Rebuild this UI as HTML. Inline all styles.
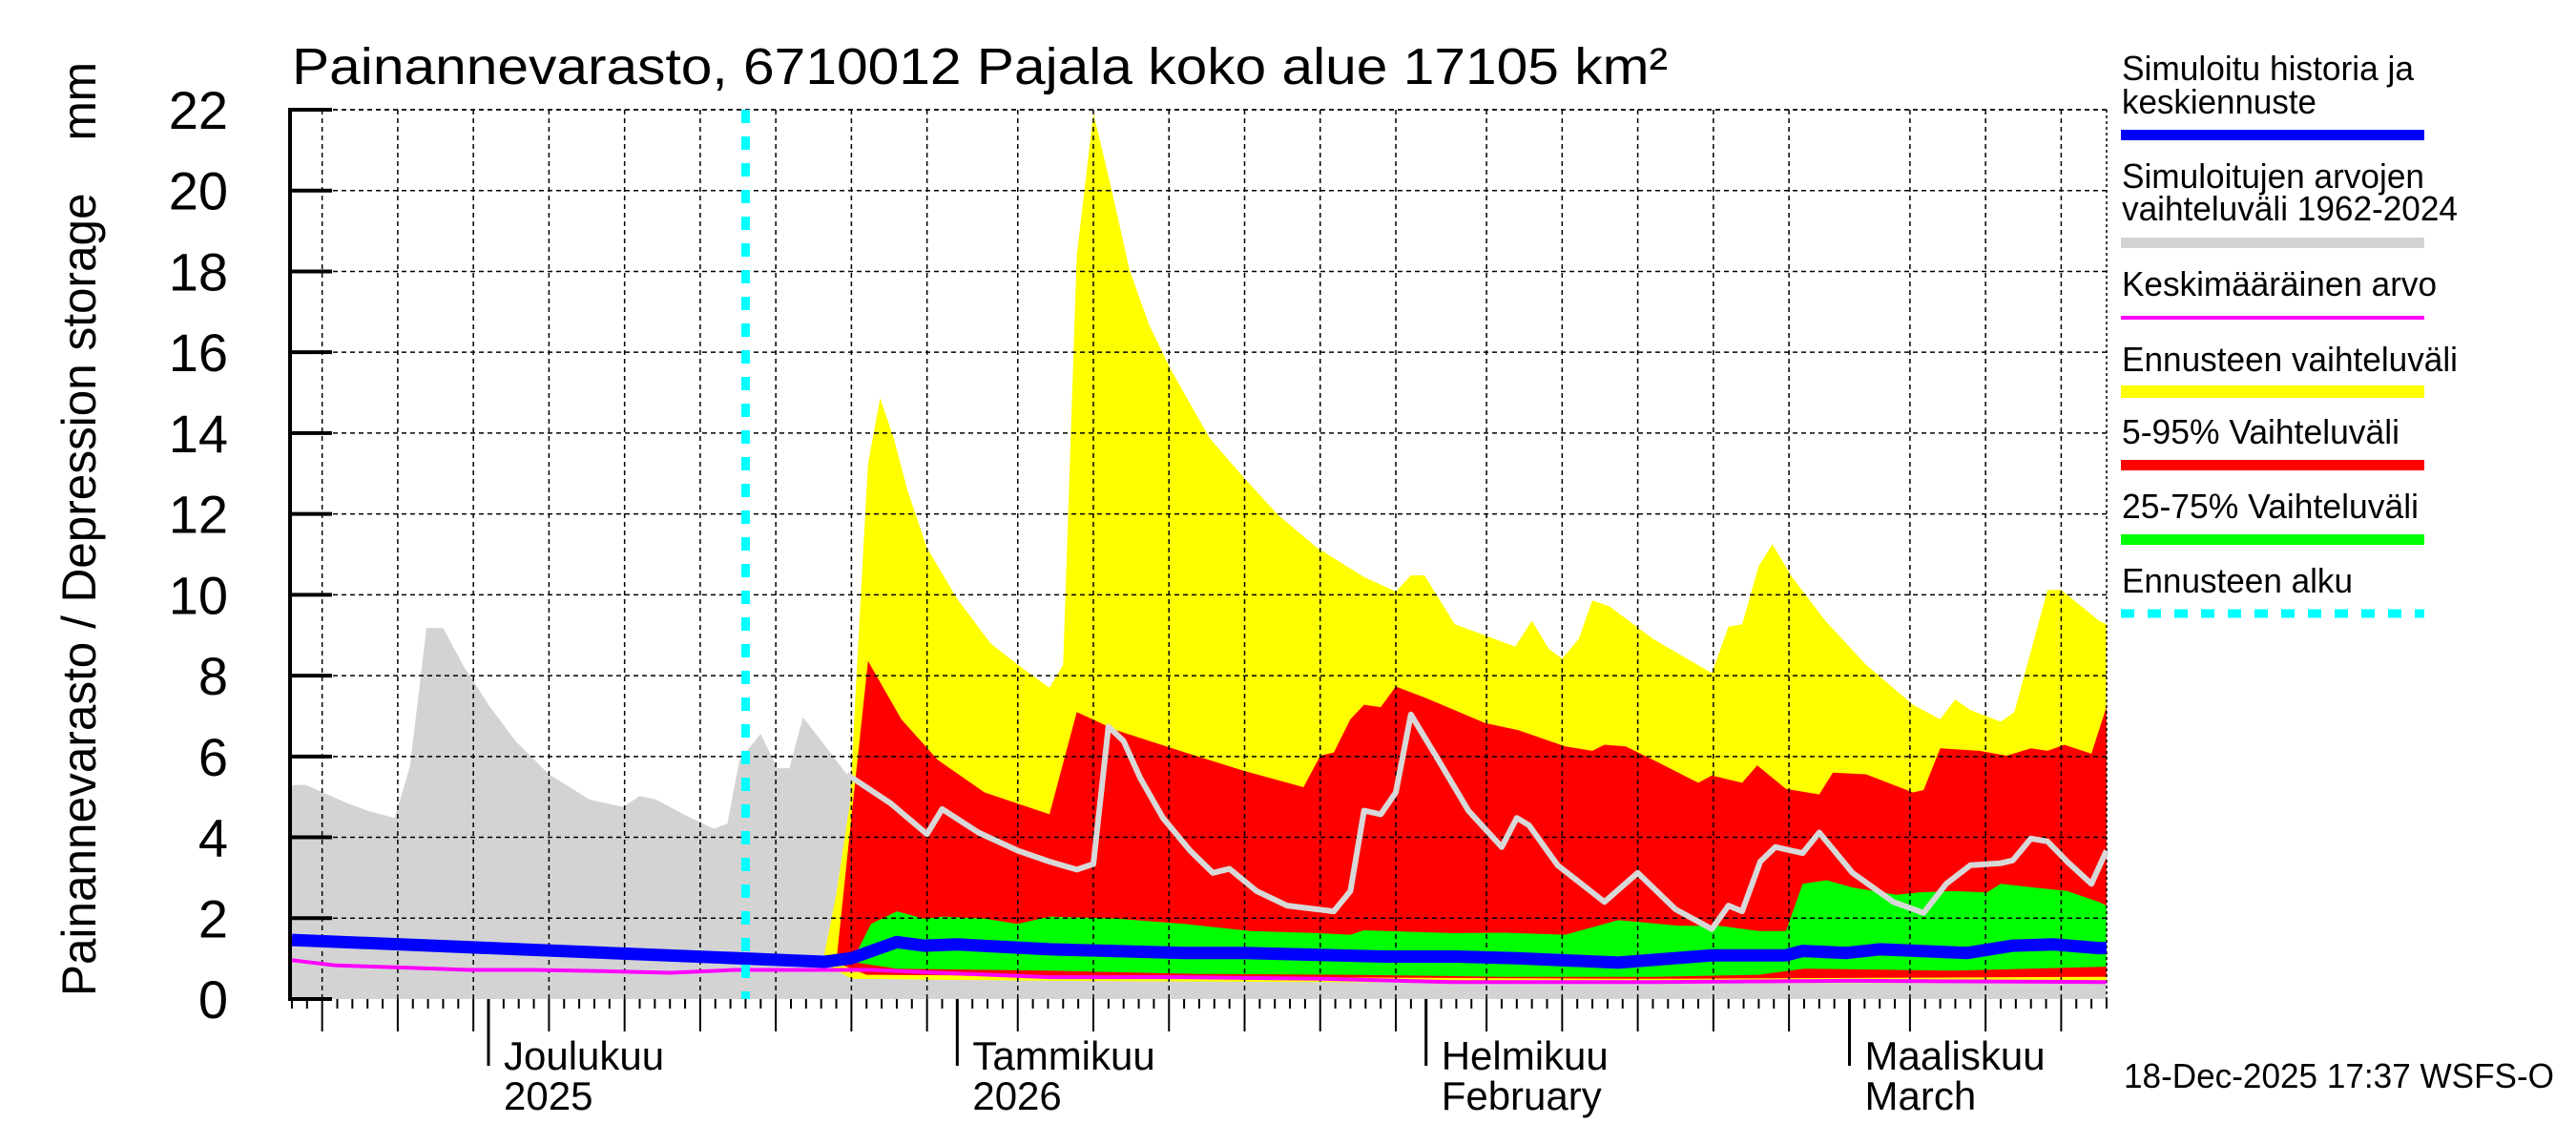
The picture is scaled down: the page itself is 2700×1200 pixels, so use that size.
<!DOCTYPE html>
<html><head><meta charset="utf-8"><style>
html,body{margin:0;padding:0;background:#fff}
svg{display:block;font-family:"Liberation Sans",sans-serif}
</style></head><body>
<svg id="chart" width="2700" height="1200" viewBox="0 0 2700 1200" xmlns="http://www.w3.org/2000/svg">
<rect width="2700" height="1200" fill="#fff"/>
<g id="fills"></g><g id="grid"></g><g id="lines"></g><g id="axes"></g>
<text x="306" y="88" font-size="54" textLength="1442" lengthAdjust="spacingAndGlyphs">Painannevarasto, 6710012 Pajala koko alue 17105 km²</text>
<text transform="translate(100,1044) rotate(-90)" font-size="50" textLength="979" lengthAdjust="spacingAndGlyphs" xml:space="preserve" style="white-space:pre">Painannevarasto / Depression storage    mm</text>
<g font-size="36" lengthAdjust="spacingAndGlyphs">
<text x="2224" y="84" textLength="306" lengthAdjust="spacingAndGlyphs">Simuloitu historia ja</text>
<text x="2224" y="119" textLength="204" lengthAdjust="spacingAndGlyphs">keskiennuste</text>
<rect x="2223" y="136" width="318" height="11" fill="#0000ff"/>
<text x="2224" y="197" textLength="317" lengthAdjust="spacingAndGlyphs">Simuloitujen arvojen</text>
<text x="2224" y="231" textLength="352" lengthAdjust="spacingAndGlyphs">vaihteluväli 1962-2024</text>
<rect x="2223" y="249" width="318" height="11" fill="#d3d3d3"/>
<text x="2224" y="310" textLength="330" lengthAdjust="spacingAndGlyphs">Keskimääräinen arvo</text>
<rect x="2223" y="331" width="318" height="4" fill="#ff00ff"/>
<text x="2224" y="389" textLength="352" lengthAdjust="spacingAndGlyphs">Ennusteen vaihteluväli</text>
<rect x="2223" y="404" width="318" height="13" fill="#ffff00"/>
<text x="2224" y="465" textLength="291" lengthAdjust="spacingAndGlyphs">5-95% Vaihteluväli</text>
<rect x="2223" y="482" width="318" height="11" fill="#ff0000"/>
<text x="2224" y="543" textLength="311" lengthAdjust="spacingAndGlyphs">25-75% Vaihteluväli</text>
<rect x="2223" y="560" width="318" height="11" fill="#00ff00"/>
<text x="2224" y="621" textLength="242" lengthAdjust="spacingAndGlyphs">Ennusteen alku</text>
<line x1="2223" y1="643" x2="2541" y2="643" stroke="#00ffff" stroke-width="9" stroke-dasharray="14,14"/>
</g>
<text x="2226" y="1140" font-size="36" textLength="451" lengthAdjust="spacingAndGlyphs">18-Dec-2025 17:37 WSFS-O</text>
</svg>
<script>
// ---- data (day index: 0 = 18 Nov 2025) ----
const histDays = [0,0.9,3.7,5,6.8,7.8,8.9,10,11.3,13,14.8,17,19.7,21.9,23,24.1,25.9,27.9,28.8,29.6,31,32.1,32.9,33.8,35.2,36.7];
const histMax = [5.29,5.3,4.84,4.66,4.48,5.74,9.18,9.18,8.27,7.28,6.38,5.56,4.93,4.75,5.02,4.93,4.57,4.21,4.34,5.92,6.56,5.71,5.71,6.97,6.29,5.56];
const maxLineDays = [36.7,39.6,42,43,45.4,48,50.1,51.9,53,54,55,56.1,57.6,59.4,60.9,62,63.8,65.8,68.9,70,70.9,72,73,74,75.8,77.8,80,81,81.8,83.7,86.8,89,91.5,93.9,95,95.9,97.1,98.1,99.9,101,103.2,105.9,107.9,109.4,111,113,113.8,115,116.1,117.4,119,120];
const maxLineVals = [5.56,4.84,4.08,4.7,4.12,3.67,3.4,3.2,3.34,6.74,6.38,5.47,4.48,3.67,3.12,3.22,2.67,2.31,2.17,2.67,4.66,4.57,5.11,7.04,5.92,4.66,3.76,4.48,4.3,3.31,2.4,3.12,2.22,1.73,2.31,2.17,3.4,3.76,3.61,4.12,3.12,2.4,2.13,2.85,3.31,3.36,3.43,3.97,3.9,3.4,2.85,3.67];
const yelDays = [35.1,36,36.9,37.4,38.1,38.9,39.8,40.7,42,44,46.2,48,50.1,51,51.9,53,54.1,55.4,56.7,58.1,60.7,63,65.2,67.8,70.9,73,74,74.9,76.9,80.9,82,83.1,84,85.1,86,87.1,90,93.9,95,95.9,97,97.9,99.2,101.4,104.1,107.2,109,110,111,113,113.9,116.1,117,119.5,120];
const yelMax = [0.9,2.58,4.84,8.45,13.24,14.87,13.87,12.6,11.16,9.9,8.8,8.27,7.7,8.27,18.39,21.91,20.2,18.03,16.67,15.59,13.87,12.88,11.98,11.16,10.44,10.08,10.48,10.48,9.27,8.72,9.36,8.67,8.42,8.91,9.86,9.72,8.91,8.06,9.21,9.27,10.71,11.25,10.44,9.36,8.27,7.28,6.92,7.41,7.15,6.86,7.1,10.12,10.12,9.36,9.27];
const yelMinDays = [35.1,37,50,80,120];
const yelMin = [0.9,0.5,0.45,0.4,0.4];
const redDays = [36,37,38.1,40.3,42.7,45.8,50.1,51.9,54.5,59,62.9,66.9,68,68.9,70,70.9,72,73,74.9,78.9,81.1,84.2,86,86.8,88.2,90,93,93.9,95.9,96.9,98.8,101,101.9,104.1,107.2,107.9,109,111.6,113.4,115,116.1,117.2,119,120];
const redMax = [0.9,4.5,8.36,6.92,5.92,5.11,4.57,7.1,6.65,6.11,5.65,5.24,6.02,6.1,6.92,7.28,7.22,7.73,7.46,6.83,6.65,6.25,6.14,6.29,6.25,5.92,5.35,5.53,5.35,5.78,5.2,5.06,5.6,5.56,5.11,5.17,6.2,6.14,6.02,6.2,6.14,6.29,6.07,7.23];
const redMinDays = [36,38,60,90,120];
const redMin = [0.9,0.6,0.55,0.5,0.55];
const grnDays = [36.5,37.2,38.3,40,41.8,43.1,45.8,48,50.1,54.5,59,63.4,67.8,70,70.9,76.7,80.2,84.2,87.7,89,91.7,94.4,97,98.8,99.9,101.5,103.2,106.1,107.6,109.9,112.1,113,115.2,117.4,119.5,120];
const grnMax = [0.95,1.05,1.86,2.17,1.99,2.04,1.99,1.86,2.04,1.99,1.86,1.68,1.63,1.59,1.7,1.63,1.64,1.59,1.95,1.91,1.81,1.81,1.68,1.68,2.85,2.94,2.76,2.58,2.64,2.67,2.64,2.85,2.76,2.67,2.4,2.31];
const grnMinDays = [36.5,40,50,60,70,80,90,97,100,110,120];
const grnMin = [0.95,0.75,0.7,0.62,0.6,0.55,0.55,0.6,0.75,0.7,0.8];
const blueDays = [0,35.2,37,40,41.8,44,50.1,59,63,67,72.2,77,81,87.7,93.9,98.8,99.9,102.8,105,110.8,113.8,116.5,119.5,120];
const blueVals = [1.46,0.92,1.01,1.41,1.32,1.35,1.23,1.14,1.14,1.1,1.05,1.05,1.01,0.9,1.08,1.08,1.19,1.14,1.23,1.14,1.32,1.35,1.26,1.26];
const meanDays = [0,2.9,7.3,11.7,16,20.5,25,29.4,34,38.3,42.7,50.1,59,68,76.7,90,103,120];
const meanVals = [0.96,0.83,0.78,0.72,0.72,0.69,0.65,0.72,0.72,0.72,0.65,0.54,0.54,0.5,0.42,0.42,0.45,0.42];
const forecastStartDay = [30];
const yTicks = [0,2,4,6,8,10,12,14,16,18,20,22];
const monthLabels = [["Joulukuu","2025"],["Tammikuu","2026"],["Helmikuu","February"],["Maaliskuu","March"]];

// ---- scales ----
const X0=304, X1=2208, Y0=1047, Y1=115;
const x = d => 512 + (d-13)*15.85;
const y = v => Y0 - v*(Y0-Y1)/22;
const NS="http://www.w3.org/2000/svg";
function mk(tag, parent, attrs){const e=document.createElementNS(NS,tag);for(const k in attrs)e.setAttribute(k,attrs[k]);document.getElementById(parent).appendChild(e);return e;}
function pts(ds,vs){return ds.map((d,i)=>x(d).toFixed(1)+","+y(vs[i]).toFixed(1));}
function band(ud,uv,ld,lv){return pts(ud,uv).concat(pts(ld,lv).reverse()).join(" ");}

let e;
e=mk("polygon","fills",{points:band(histDays.concat(maxLineDays.slice(1)),histMax.concat(maxLineVals.slice(1)),[0,120],[0,0]),fill:"#d3d3d3"});


e=mk("polygon","fills",{points:band(yelDays,yelMax,yelMinDays,yelMin),fill:"#ffff00"});


e=mk("polygon","fills",{points:band(redDays,redMax,redMinDays,redMin),fill:"#ff0000"});


e=mk("polygon","fills",{points:band(grnDays,grnMax,grnMinDays,grnMin),fill:"#00ff00"});



yTicks.forEach(v=>{
  if(v>0){e=mk("line","grid",{x1:X0,x2:X1,y1:y(v),y2:y(v),stroke:"#000","stroke-width":1.5,"stroke-dasharray":"5,4"});
  
  }
  e=mk("line","axes",{x1:X0,x2:X0+44,y1:y(v),y2:y(v),stroke:"#000","stroke-width":4});
  
  
  e=mk("text","axes",{x:239,y:y(v)+20,"font-size":56,"text-anchor":"end"});
  e.textContent=v;
  
  
});
const start=new Date(2025,10,18);
let mi=0;
for(let d=0; d<=120; d++){
  const dt=new Date(start.getTime()+d*86400000);
  const dom=dt.getDate();
  const xx=x(d);
  let len=10;
  if(dom%5===0){len=34;
    e=mk("line","grid",{x1:xx,x2:xx,y1:Y1,y2:Y0,stroke:"#000","stroke-width":1.5,"stroke-dasharray":"5,4"});
    
    }
  if(dom===1){len=70;
    const lb=monthLabels[mi++];
    e=mk("text","axes",{x:xx+16,y:1121,"font-size":42});e.textContent=lb[0];
    
    
    e=mk("text","axes",{x:xx+16,y:1163,"font-size":42});e.textContent=lb[1];
    
    }
  e=mk("line","axes",{x1:xx,x2:xx,y1:Y0,y2:Y0+len,stroke:"#000","stroke-width":dom===1?3:2});
  
  
}
e=mk("line","grid",{x1:X0,x2:X1,y1:Y1,y2:Y1,stroke:"#000","stroke-width":1.5,"stroke-dasharray":"5,4"});


e=mk("line","grid",{x1:X1,x2:X1,y1:Y1,y2:Y0,stroke:"#000","stroke-width":1.5,"stroke-dasharray":"3,3"});


e=mk("line","axes",{x1:X0,x2:X0,y1:Y1-2,y2:Y0+2,stroke:"#000","stroke-width":4});



e=mk("polyline","lines",{points:pts(maxLineDays,maxLineVals).join(" "),fill:"none",stroke:"#d8d8d8","stroke-width":6,"stroke-linejoin":"round"});


e=mk("polyline","lines",{points:pts(meanDays,meanVals).join(" "),fill:"none",stroke:"#ff00ff","stroke-width":4});


e=mk("polyline","lines",{points:pts(blueDays,blueVals).join(" "),fill:"none",stroke:"#0000ff","stroke-width":13,"stroke-linejoin":"round"});


e=mk("line","lines",{x1:x(forecastStartDay[0]),x2:x(forecastStartDay[0]),y1:Y1,y2:Y0,stroke:"#00ffff","stroke-width":9,"stroke-dasharray":"14,14"});


</script>
</body></html>
